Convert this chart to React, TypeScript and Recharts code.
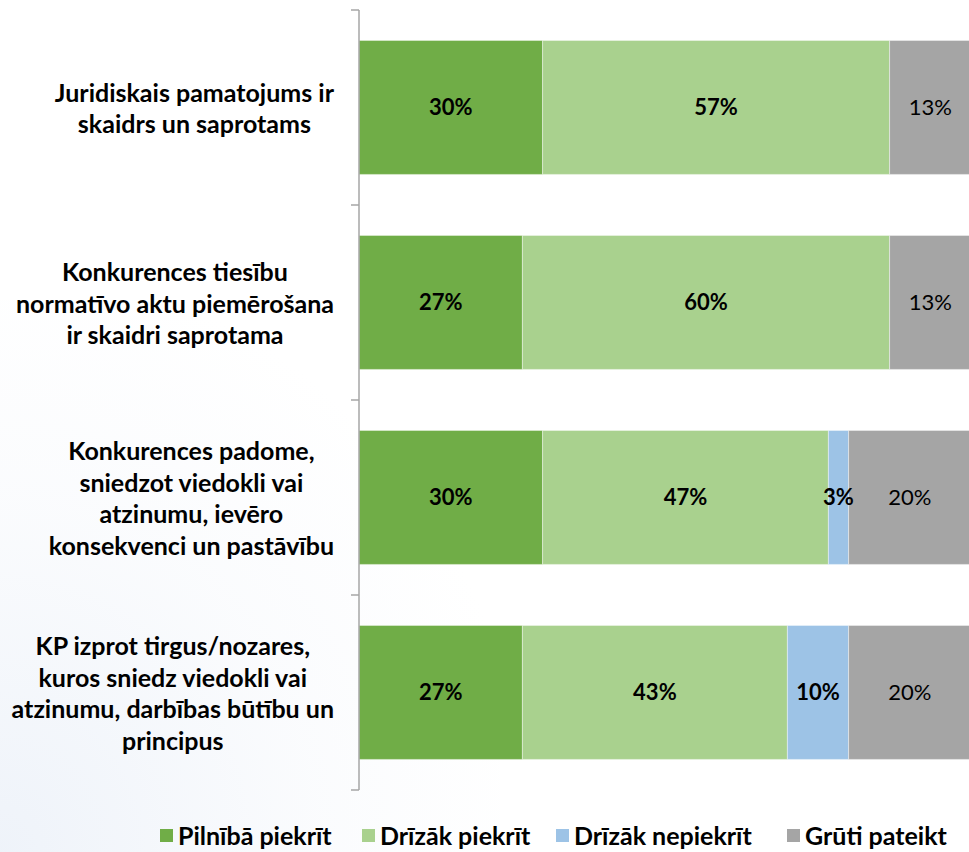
import React from "react";
import {
  BarChart,
  Bar,
  XAxis,
  YAxis,
  Legend,
  LabelList,
} from "recharts";

// Survey answers (n=30), shares in %
const categoryLines = [
  ["Juridiskais pamatojums ir", "skaidrs un saprotams"],
  ["Konkurences tiesību", "normatīvo aktu piemērošana", "ir skaidri saprotama"],
  ["Konkurences padome,", "sniedzot viedokli vai", "atzinumu, ievēro", "konsekvenci un pastāvību"],
  ["KP izprot tirgus/nozares,", "kuros sniedz viedokli vai", "atzinumu, darbības būtību un", "principus"],
];
const fullyAgree = [30, 26.7, 30, 26.7];
const ratherAgree = [56.7, 60, 46.7, 43.3];
const ratherDisagree = [0, 0, 3.3, 10];
const hardToSay = [13.3, 13.3, 20, 20];

const seriesNames = ["Pilnībā piekrīt", "Drīzāk piekrīt", "Drīzāk nepiekrīt", "Grūti pateikt"];
const seriesColors = ["#70AD47", "#A9D18E", "#9DC3E6", "#A5A5A5"];

const data = categoryLines.map((lines, i) => ({
  name: lines.join(" "),
  s0: fullyAgree[i],
  s1: ratherAgree[i],
  s2: ratherDisagree[i],
  s3: hardToSay[i],
}));

const FONT = "Lato, 'Open Sans', sans-serif";
const TEXT_SIZE = 25;
const PAGE_W = 969;
const CHART_W = 971;
const CHART_H = 852;
const TOP = 10;
const LEGEND_H = 62;
const AXIS_W = 359;
const BAND = (CHART_H - TOP - LEGEND_H) / categoryLines.length;

let measureCtx: CanvasRenderingContext2D | null = null;
function textWidth(s: string, font: string) {
  if (!measureCtx) measureCtx = document.createElement("canvas").getContext("2d");
  if (!measureCtx) return s.length * 12;
  measureCtx.font = font;
  return measureCtx.measureText(s).width;
}

function CategoryTick(props: any) {
  const { y, payload, index } = props;
  const lines = categoryLines[index] || [String(payload.value)];
  const font = `bold ${TEXT_SIZE}px ${FONT}`;
  const maxW = Math.max(...lines.map((l) => textWidth(l, font)));
  const cx = 334 - maxW / 2;
  const lh = 31.5;
  const y0 = y - ((lines.length - 1) * lh) / 2;
  const isLast = index === categoryLines.length - 1;
  return (
    <g>
      <line x1={AXIS_W - 8} x2={AXIS_W} y1={y - BAND / 2} y2={y - BAND / 2} stroke="#A6A6A6" strokeWidth={1.5} />
      {isLast && (
        <line x1={AXIS_W - 8} x2={AXIS_W} y1={y + BAND / 2} y2={y + BAND / 2} stroke="#A6A6A6" strokeWidth={1.5} />
      )}
      {lines.map((l, i) => (
        <text
          key={i}
          x={cx}
          y={y0 + i * lh}
          textAnchor="middle"
          dominantBaseline="central"
          fontFamily={FONT}
          fontWeight="bold"
          fontSize={TEXT_SIZE}
          fill="#000"
        >
          {l}
        </text>
      ))}
    </g>
  );
}

function LegendContent() {
  const xs = [160, 362, 556, 787];
  return (
    <div style={{ position: "relative", width: PAGE_W, height: LEGEND_H }}>
      {seriesNames.map((n, i) => (
        <div
          key={n}
          style={{
            position: "absolute",
            left: xs[i],
            top: 30,
            display: "flex",
            alignItems: "center",
            fontFamily: FONT,
            fontWeight: "bold",
            fontSize: TEXT_SIZE,
            color: "#000",
            whiteSpace: "nowrap",
          }}
        >
          <span style={{ display: "inline-block", width: 13, height: 13, background: seriesColors[i], marginRight: 5 }} />
          {n}
        </div>
      ))}
    </div>
  );
}

const fmt = (v: any) => (Number(v) > 0 ? `${Math.round(Number(v))}%` : "");

export default function App() {
  return (
    <div style={{ position: "absolute", left: 0, top: 0, width: PAGE_W, height: CHART_H, overflow: "hidden", background: "#fff" }}>
      <div
        style={{
          position: "absolute",
          left: 0,
          top: 300,
          width: 500,
          height: 552,
          background: "radial-gradient(ellipse at 0% 100%, rgba(222,231,244,0.5) 0%, rgba(240,244,250,0.3) 45%, rgba(255,255,255,0) 75%)",
        }}
      />
      <BarChart
        width={CHART_W}
        height={CHART_H}
        data={data}
        layout="vertical"
        margin={{ top: TOP, right: 0, left: 0, bottom: 0 }}
        barCategoryGap="15.6%"
        style={{ position: "relative" }}
      >
        <XAxis type="number" domain={[0, 100]} hide />
        <YAxis
          type="category"
          dataKey="name"
          width={AXIS_W}
          axisLine={{ stroke: "#A6A6A6", strokeWidth: 1.5 }}
          tickLine={false}
          tick={<CategoryTick />}
          interval={0}
        />
        <Legend verticalAlign="bottom" height={LEGEND_H} content={<LegendContent />} />
        {["s0", "s1", "s2", "s3"].map((k, i) => (
          <Bar
            key={k}
            dataKey={k}
            name={seriesNames[i]}
            stackId="a"
            fill={seriesColors[i]}
            stroke="#ffffff"
            strokeOpacity={0.4}
            strokeWidth={1}
            isAnimationActive={false}
          >
            <LabelList
              dataKey={k}
              position="center"
              formatter={fmt}
              fill="#000"
              fontFamily={FONT}
              fontSize={22}
              fontWeight={i === 3 ? "normal" : "bold"}
            />
          </Bar>
        ))}
      </BarChart>
    </div>
  );
}
